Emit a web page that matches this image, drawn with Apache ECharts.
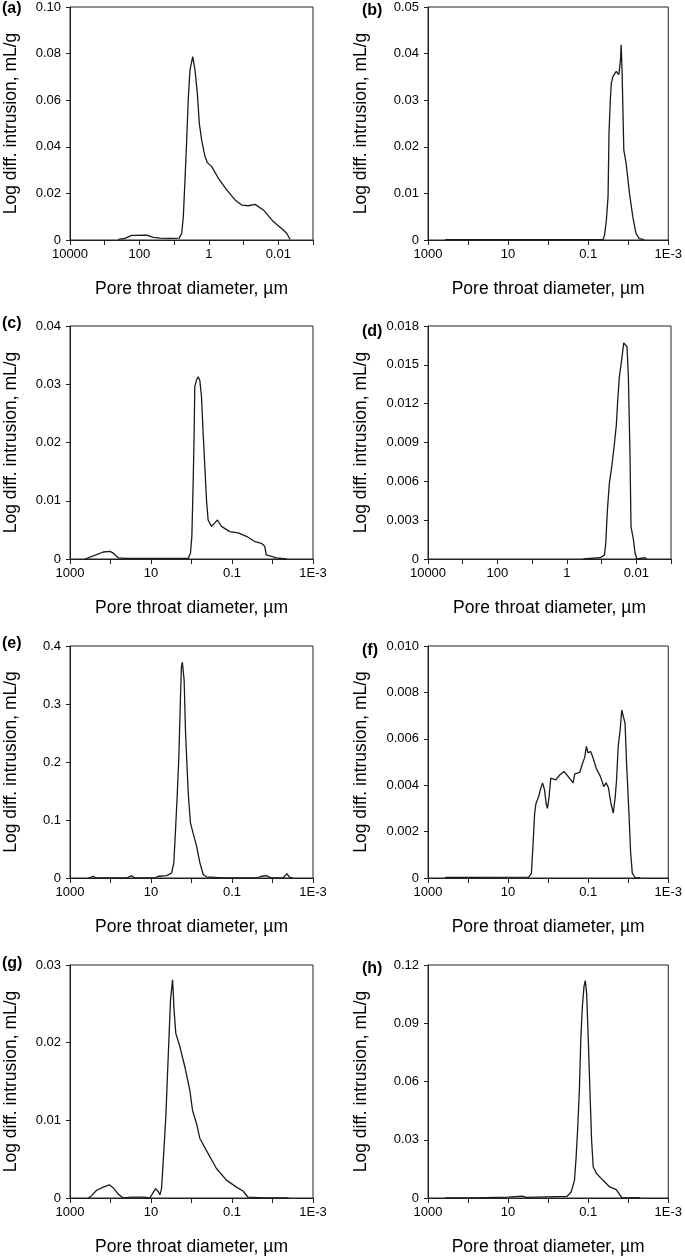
<!DOCTYPE html>
<html><head><meta charset="utf-8">
<script src="https://cdn.jsdelivr.net/npm/echarts@6/dist/echarts.min.js"></script>
<style>html,body{margin:0;padding:0;background:#fff}#c{width:685px;height:1258px}</style>
</head><body><div id="c"></div>
<script>
// ---------- data: [pore throat diameter (µm), log diff. intrusion (mL/g)] ----------
const panelA = [[407,0.0003],[263,0.0007],[168,0.002],[150,0.0021],[62,0.0021],[40,0.0011],[25.5,0.0008],[13,0.0007],[7.1,0.0008],[6.05,0.0029],[5.44,0.010],[4.87,0.0258],[4.35,0.0429],[3.89,0.0615],[3.49,0.073],[2.92,0.0787],[2.51,0.073],[2.15,0.063],[1.88,0.050],[1.61,0.0429],[1.29,0.0358],[1.1,0.0332],[0.83,0.0315],[0.53,0.0265],[0.306,0.0215],[0.176,0.0172],[0.113,0.015],[0.0728,0.0147],[0.0468,0.0153],[0.0269,0.0129],[0.0139,0.0079],[0.00715,0.0043],[0.00575,0.0029],[0.00459,0.0003]];
const panelB = [[372,0.0001],[200,0.0001],[50,0.0001],[5,0.0001],[0.5,0.0001],[0.0424,0.0001],[0.0389,0.0011],[0.0351,0.0043],[0.0319,0.0093],[0.0302,0.0229],[0.028,0.0301],[0.0264,0.0337],[0.024,0.0351],[0.0199,0.0362],[0.0171,0.0355],[0.0156,0.0387],[0.015,0.0419],[0.0142,0.0358],[0.0129,0.0193],[0.0113,0.0165],[0.0093,0.01],[0.0077,0.005],[0.0064,0.0014],[0.0053,0.0003],[0.004,0.0001]];
const panelC = [[426,0],[220,0.00074],[151,0.0012],[103,0.0013],[85,0.001],[64.5,0.0002],[40,0.0001],[10,0.0001],[3,0.0001],[1.21,0.0001],[1.06,0.001],[0.98,0.0039],[0.91,0.013],[0.86,0.0216],[0.83,0.0296],[0.753,0.0307],[0.686,0.0313],[0.624,0.0307],[0.567,0.0279],[0.516,0.0216],[0.469,0.0159],[0.427,0.0102],[0.389,0.0067],[0.321,0.0056],[0.266,0.0062],[0.229,0.0067],[0.182,0.0056],[0.1136,0.0047],[0.0708,0.0045],[0.044,0.0039],[0.0275,0.003],[0.0188,0.0027],[0.0156,0.0022],[0.0142,0.0007],[0.008,0.0002],[0.0045,0]];
const panelD = [[0.333,0],[0.11,0.0001],[0.0828,0.0003],[0.0758,0.0012],[0.0679,0.0038],[0.0594,0.0059],[0.051,0.0071],[0.0427,0.0089],[0.0374,0.0104],[0.0342,0.0123],[0.0307,0.0141],[0.0263,0.0154],[0.023,0.0167],[0.0211,0.0168],[0.0185,0.0164],[0.0169,0.0141],[0.0151,0.0077],[0.0142,0.0025],[0.0121,0.0015],[0.0109,0.0005],[0.0097,0],[0.0056,0.0001],[0.005,0]];
const panelE = [[353,0],[266,0.003],[230,0],[40,0],[30,0.004],[25,0],[8,0],[6.6,0.003],[4.1,0.004],[3.1,0.0086],[2.73,0.026],[2.48,0.083],[2.26,0.14],[2.05,0.21],[1.87,0.313],[1.77,0.364],[1.68,0.372],[1.61,0.373],[1.52,0.341],[1.41,0.255],[1.28,0.187],[1.19,0.141],[1.06,0.095],[0.91,0.077],[0.75,0.055],[0.62,0.026],[0.515,0.006],[0.427,0.002],[0.166,0],[0.065,0],[0.025,0],[0.0188,0.003],[0.0141,0.004],[0.0107,0],[0.0055,0],[0.0044,0.0075],[0.0039,0.002],[0.0032,0]];
const panelF = [[374,0.00003],[92,0.00003],[3.06,0.00004],[2.62,0.0002],[2.39,0.0014],[2.17,0.0028],[2.02,0.0032],[1.73,0.0035],[1.57,0.0038],[1.38,0.0041],[1.23,0.0038],[1.12,0.0032],[1.04,0.003],[0.946,0.0035],[0.86,0.0043],[0.782,0.00437],[0.647,0.00423],[0.506,0.00445],[0.403,0.00459],[0.315,0.00437],[0.238,0.0041],[0.216,0.00449],[0.163,0.00455],[0.135,0.005],[0.122,0.0052],[0.111,0.00567],[0.101,0.0054],[0.087,0.00545],[0.0763,0.0052],[0.063,0.00473],[0.0493,0.00437],[0.0408,0.00394],[0.0358,0.0041],[0.0313,0.0039],[0.0269,0.0032],[0.0236,0.0028],[0.0211,0.0035],[0.0196,0.0042],[0.0178,0.00567],[0.0159,0.00638],[0.0145,0.00724],[0.0132,0.00695],[0.012,0.00667],[0.011,0.00495],[0.0096,0.0028],[0.0087,0.00108],[0.0079,0.0002],[0.0066,0],[0.005,0]];
const panelG = [[353,0],[292,0.0003],[220,0.001],[151,0.0014],[107,0.0017],[85,0.0013],[64.5,0.0005],[48.5,0],[30,0.0001],[15,0.0001],[10.7,0],[9.1,0.0006],[7.7,0.0012],[6.6,0.0008],[6.0,0.0004],[5.5,0.0012],[4.81,0.0061],[4.3,0.0105],[3.91,0.016],[3.56,0.0212],[3.3,0.0255],[3.11,0.0268],[2.94,0.0281],[2.82,0.0265],[2.73,0.0246],[2.44,0.0212],[1.94,0.0195],[1.46,0.0169],[1.1,0.0139],[0.944,0.0113],[0.753,0.0096],[0.624,0.0077],[0.427,0.0061],[0.242,0.0038],[0.137,0.0023],[0.078,0.0014],[0.0535,0.0009],[0.0402,0.0001],[0.0171,0],[0.005,0],[0.0046,0.0001],[0.004,0]];
const panelH = [[374,0],[68,0.0001],[10.2,0.0005],[4.37,0.001],[3.5,0.0003],[0.34,0.0008],[0.266,0.0031],[0.22,0.0091],[0.2,0.021],[0.182,0.0366],[0.166,0.0555],[0.153,0.0813],[0.14,0.0985],[0.127,0.109],[0.118,0.112],[0.109,0.105],[0.0993,0.0813],[0.0904,0.0555],[0.0822,0.0297],[0.0748,0.016],[0.062,0.0126],[0.0424,0.0091],[0.029,0.0057],[0.0199,0.0043],[0.0165,0.0019],[0.0142,0],[0.0064,0.0002],[0.005,0]];

const panelLabels = ['(a)','(b)','(c)','(d)','(e)','(f)','(g)','(h)'];
// x tick labels (log decades) - wide range panels (a),(d) and narrow ones
const xTickExpWide = [4, 2, 0, -2];
const xTickLabelsWide = ['10000', '100', '1', '0.01'];
const xTickExpNarrow = [3, 1, -1, -3];
const xTickLabelsNarrow = ['1000', '10', '0.1', '1E-3'];
const xMaxWide = 10000, xMaxNarrow = 1000, xMin = 0.001;
// y ticks
const yMax = [0.10, 0.05, 0.04, 0.018, 0.4, 0.010, 0.03, 0.12];
const yStep = [0.02, 0.01, 0.01, 0.003, 0.1, 0.002, 0.01, 0.03];
const yDecimals = [2, 2, 2, 3, 1, 3, 2, 2];
const wideX = [true, false, false, true, false, false, false, false];

const xName = 'Pore throat diameter, \u00b5m';
const yName = 'Log diff. intrusion, mL/g';
const panels = [panelA, panelB, panelC, panelD, panelE, panelF, panelG, panelH];

// ---------- layout ----------
const FONT = '"Liberation Sans", Arial, sans-serif';
const lefts = [70, 428];
const tops = [7, 326, 646, 965];
const heights = [233, 233, 232, 233];
const labelPos = [[2,10],[362,12],[2,325],[362,333],[2,645],[362,652],[2,965],[362,970]];

const grids = [], xAxes = [], yAxes = [], series = [], graphics = [];
for (let i = 0; i < 8; i++) {
  const col = i % 2, row = Math.floor(i / 2);
  grids.push({left: lefts[col], top: tops[row], width: 243, height: heights[row],
    show: true, borderColor: '#222', borderWidth: 1, backgroundColor: 'transparent'});
  const exps = wideX[i] ? xTickExpWide : xTickExpNarrow;
  const labs = wideX[i] ? xTickLabelsWide : xTickLabelsNarrow;
  xAxes.push({
    type: 'log', logBase: 10, gridIndex: i, min: xMin, max: wideX[i] ? xMaxWide : xMaxNarrow,
    inverse: true,
    axisLine: {show: true, onZero: false, lineStyle: {color: '#222', width: 1}},
    axisTick: {show: true, inside: false, length: 5, lineStyle: {color: '#222'}},
    minorTick: {show: false}, splitLine: {show: false},
    axisLabel: {margin: 8, fontSize: 13, color: '#000', fontFamily: FONT,
      showMinLabel: true, showMaxLabel: true,
      formatter: function (v) {
        const e = Math.round(Math.log10(v));
        const k = exps.indexOf(e);
        return k >= 0 ? labs[k] : '';
      }},
    name: xName, nameLocation: 'middle', nameGap: 40,
    nameTextStyle: {fontSize: 17.5, color: '#000', fontFamily: FONT}
  });
  const dec = yDecimals[i];
  yAxes.push({
    type: 'value', gridIndex: i, min: 0, max: yMax[i], interval: yStep[i],
    axisLine: {show: true, lineStyle: {color: '#222', width: 1}},
    axisTick: {show: true, inside: false, length: 4, lineStyle: {color: '#222'}},
    splitLine: {show: false},
    axisLabel: {margin: 9, fontSize: 13, color: '#000', fontFamily: FONT,
      formatter: function (v) { return Math.abs(v) < 1e-12 ? '0' : v.toFixed(dec); }},
    name: yName, nameLocation: 'middle', nameGap: col === 0 ? 50 : 58,
    nameTextStyle: {fontSize: 17.5, color: '#000', fontFamily: FONT}
  });
  series.push({type: 'line', xAxisIndex: i, yAxisIndex: i, data: panels[i],
    showSymbol: false, symbol: 'none', smooth: false, clip: true,
    lineStyle: {color: '#1a1a1a', width: 1.3}});
  graphics.push({type: 'text', left: labelPos[i][0], top: labelPos[i][1] - 9,
    style: {text: panelLabels[i], font: 'bold 16px ' + FONT, fill: '#000'}});
}

const chart = echarts.init(document.getElementById('c'), null, {renderer: 'canvas'});
chart.setOption({
  animation: false, backgroundColor: '#fff',
  grid: grids, xAxis: xAxes, yAxis: yAxes, series: series, graphic: graphics
});
</script></body></html>
